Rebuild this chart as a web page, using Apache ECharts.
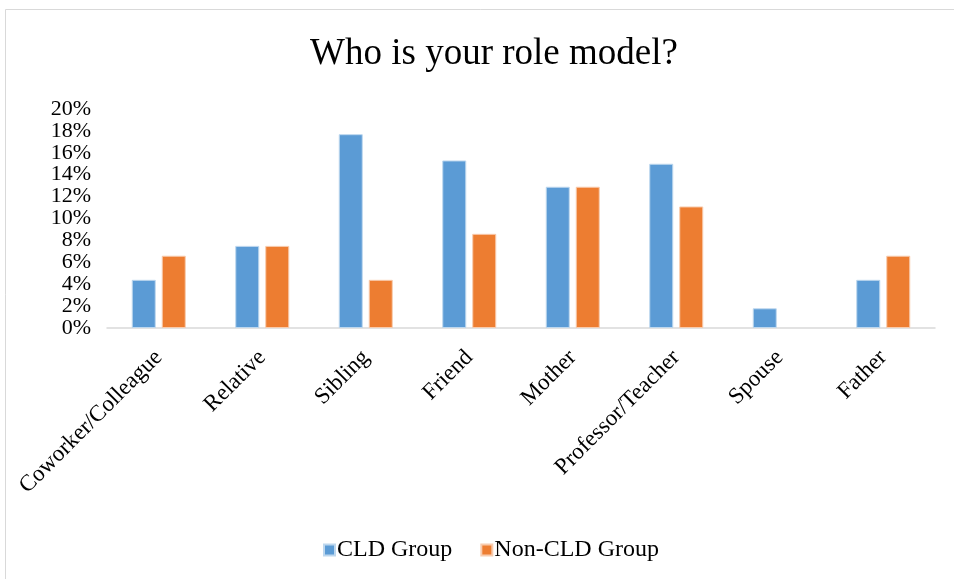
<!DOCTYPE html>
<html>
<head>
<meta charset="utf-8">
<script src="https://cdn.jsdelivr.net/npm/echarts@6/dist/echarts.min.js"></script>
<style>
  html, body { margin: 0; padding: 0; background: #fff; }
  #main { width: 954px; height: 579px; }
</style>
</head>
<body>
<div id="main"></div>
<script>
const categories = ['Coworker/Colleague', 'Relative', 'Sibling', 'Friend', 'Mother', 'Professor/Teacher', 'Spouse', 'Father'];
const cldGroup = [4.4, 7.5, 17.7, 15.3, 12.9, 15.0, 1.8, 4.4];
const nonCldGroup = [6.6, 7.5, 4.4, 8.6, 12.9, 11.1, 0, 6.6];

const serif = '"Liberation Serif", "DejaVu Serif", serif';

// no outline on empty bars
function barData(arr) {
  return arr.map(v => v === 0 ? { value: v, itemStyle: { borderWidth: 0 } } : v);
}

const myChart = echarts.init(document.getElementById('main'));
const option = {
  backgroundColor: '#fff',
  animation: false,
  title: {
    text: 'Who is your role model?',
    left: 489,
    textAlign: 'center',
    top: 31,
    textStyle: { fontFamily: serif, fontSize: 37, fontWeight: 'normal', color: '#000' }
  },
  graphic: [{
    type: 'rect',
    shape: { x: 5.5, y: 9.5, width: 960, height: 600 },
    style: { fill: 'none', stroke: '#d9d9d9', lineWidth: 1 },
    silent: true
  }],
  legend: {
    bottom: 12,
    left: 318,
    itemWidth: 11,
    itemHeight: 11,
    itemGap: 28,
    icon: 'rect',
    textStyle: { fontFamily: serif, fontSize: 24, color: '#000', padding: [0, 0, 0, -3] },
    data: ['CLD Group', 'Non-CLD Group']
  },
  grid: { left: 107, right: 19, top: 109, bottom: 251 },
  xAxis: {
    type: 'category',
    data: categories,
    axisLine: { lineStyle: { color: '#d9d9d9', width: 1.5 } },
    axisTick: { show: false },
    axisLabel: {
      rotate: 45,
      interval: 0,
      margin: 26,
      fontFamily: serif,
      fontSize: 23,
      color: '#000'
    }
  },
  yAxis: {
    type: 'value',
    min: 0,
    max: 20,
    interval: 2,
    splitLine: { show: false },
    axisLine: { show: false },
    axisTick: { show: false },
    axisLabel: {
      formatter: '{value}%',
      margin: 16,
      showMinLabel: true,
      showMaxLabel: true,
      fontFamily: serif,
      fontSize: 22,
      color: '#000'
    }
  },
  series: [
    {
      name: 'CLD Group',
      type: 'bar',
      data: barData(cldGroup),
      barWidth: 24,
      barGap: '25%',
      itemStyle: { color: '#5b9bd5', borderColor: '#bdd7ee', borderWidth: 1 }
    },
    {
      name: 'Non-CLD Group',
      type: 'bar',
      data: barData(nonCldGroup),
      barWidth: 24,
      itemStyle: { color: '#ed7d31', borderColor: '#f8cbad', borderWidth: 1 }
    }
  ]
};
myChart.setOption(option);
</script>
</body>
</html>
